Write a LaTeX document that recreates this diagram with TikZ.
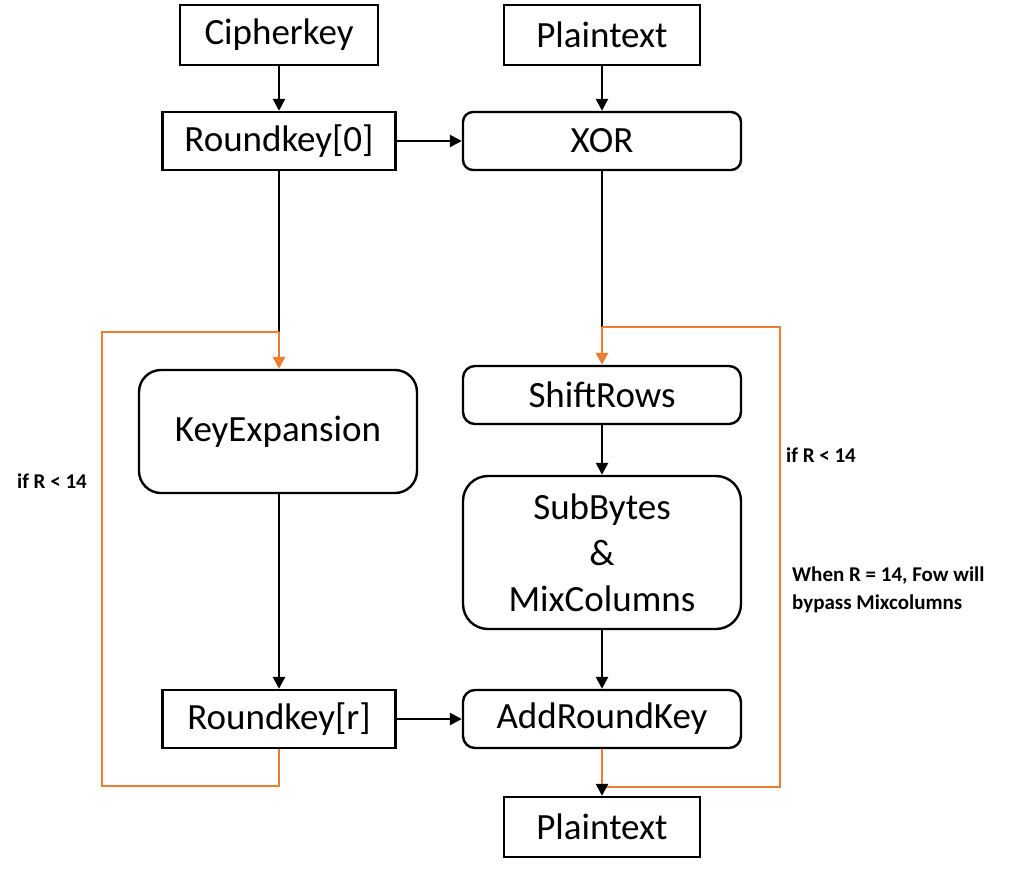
\documentclass[tikz,border=0pt]{standalone}
\usepackage{fontspec}
\setmainfont{Carlito}
\usetikzlibrary{arrows.meta}
\definecolor{orng}{RGB}{237,125,49}
\begin{document}
\begin{tikzpicture}[x=1pt,y=-1pt,
 box/.style={draw=black,line width=2.4pt,inner sep=0pt,font=\fontsize{37}{46}\selectfont,align=center},
 rnd/.style={box,rounded corners=#1},
 rnd/.default=12pt,
 conn/.style={line width=2.6pt},
 arr/.style={conn,-{Triangle[width=12pt,length=12pt]}},
 oline/.style={draw=orng,line width=2.8pt,line join=miter},
 oarr/.style={oline,-{Triangle[width=12pt,length=12pt]}},
 lbl/.style={font=\fontsize{21}{28}\selectfont\bfseries,inner sep=0pt}
]
\useasboundingbox (0,0) rectangle (1025,873);
\node[box,minimum width=198pt,minimum height=60pt] (ck) at (279,35) {Cipherkey};
\node[box,minimum width=196pt,minimum height=60pt] (pt) at (602,35) {Plaintext};
\node[box,minimum width=233pt,minimum height=58pt] (rk0) at (279,141) {Roundkey[0]};
\node[rnd=10pt,minimum width=278pt,minimum height=58pt] (xor) at (602,141) {XOR};
\node[rnd=22pt,minimum width=278pt,minimum height=123pt] (kex) at (278,431.5) {KeyExpansion};
\node[rnd,minimum width=278pt,minimum height=58pt] (sr) at (602,395) {ShiftRows};
\node[rnd=25pt,minimum width=278pt,minimum height=153pt] (sbm) at (602,552.5) {SubBytes\\\&\\MixColumns};
\node[box,minimum width=233pt,minimum height=58pt] (rkr) at (279,719) {Roundkey[r]};
\node[rnd,minimum width=278pt,minimum height=58pt] (ark) at (602,719) {AddRoundKey};
\node[box,minimum width=196pt,minimum height=60pt] (pt2) at (602,827) {Plaintext};

\coordinate (jl) at (279,332);
\coordinate (lb1) at (279,786);
\coordinate (lb2) at (102,786);
\coordinate (lb3) at (102,332);
\coordinate (jr) at (602,327);
\coordinate (rb1) at (602,787);
\coordinate (rb2) at (780,787);
\coordinate (rb3) at (780,327);

\draw[arr] (ck) -- (rk0);
\draw[arr] (pt) -- (xor);
\draw[arr] (rk0) -- (xor);
\draw[conn] (rk0) -- (jl);
\draw[oline] (rkr.south) -- (lb1) -- (lb2) -- (lb3) -- (jl);
\draw[oarr] (jl) -- (kex.north -| jl);
\draw[arr] (kex.south -| rkr) -- (rkr);
\draw[conn] (xor) -- (jr);
\draw[oline] (ark.south) -- (rb1) -- (rb2) -- (rb3) -- (jr);
\draw[oarr] (jr) -- (sr);
\draw[arr] (sr) -- (sbm);
\draw[arr] (sbm) -- (ark);
\draw[arr] (rkr) -- (ark);
\draw[arr] (rb1) -- (pt2);

\node[lbl] (l1) at (52,481) {if R < 14};
\node[lbl] (l2) at (821,455) {if R < 14};
\node[lbl,align=left,anchor=west] (l3) at (792,590) {When R = 14, Fow will\\bypass Mixcolumns};
\end{tikzpicture}
\end{document}
